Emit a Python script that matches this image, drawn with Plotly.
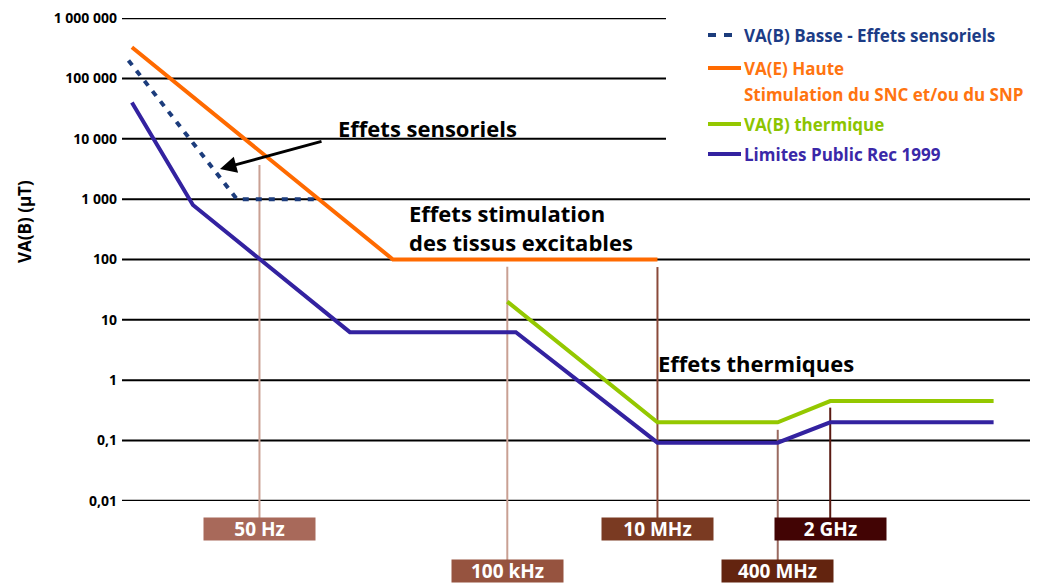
import plotly.graph_objects as go
import math

# ---------------- data ----------------
freq_orange = [1, 3000, 10e6]
val_orange = [330000, 100, 100]

freq_dotted = [0.9, 25, 300]
val_dotted = [200000, 1000, 1000]

freq_green = [100e3, 10e6, 400e6, 2e9, 300e9]
val_green = [20, 0.2, 0.2, 0.45, 0.45]

freq_blue = [1, 6.5, 800, 130e3, 10e6, 400e6, 2e9, 300e9]
val_blue = [40000, 800, 6.25, 6.25, 0.092, 0.092, 0.2, 0.2]

marker_labels = ["50 Hz", "100 kHz", "10 MHz", "400 MHz", "2 GHz"]
marker_freqs = [50, 100e3, 10e6, 400e6, 2e9]
marker_tops = [3700, 76, 75, 0.15, 0.35]

ytick_vals = [0.01, 0.1, 1, 10, 100, 1000, 10000, 100000, 1000000]
ytick_text = ["0,01", "0,1", "1", "10", "100", "1 000", "10 000", "100 000", "1 000 000"]

series_names = ["VA(B) Basse - Effets sensoriels",
                "VA(E) Haute<br>Stimulation du SNC et/ou du SNP",
                "VA(B) thermique",
                "Limites Public Rec 1999"]

# ---------------- styles / layout ----------------
OFF = 8  # default page body margin
W, H = 1050 - OFF, 585 - OFF
L, R, T, B = 122 - OFF, 20, 18 - OFF, 84
PW, PH = W - L - R, H - T - B
FONT = "Open Sans"
YPAD = 0.004  # tiny padding so edge tick labels stay visible

C_DOT = "#1c3c7c"
C_OR = "#ff6a00"
C_GR = "#94c800"
C_BL = "#3322a0"

marker_line_colors = ["#c9a093", "#c9a093", "#8a4a3a", "#9a6a60", "#5a1a12"]
marker_box_colors = ["#a8695a", "#96533f", "#7a3a22", "#63240f", "#420404"]
marker_box_row = [0, 1, 0, 1, 0]


def pxx(px):
    # reference-image pixel x -> paper
    return (px - OFF - L) / PW


def pxy(py):
    # reference-image pixel y -> paper
    return (H - B - (py - OFF)) / PH


def val2paper(v):
    return (math.log10(v) + 2 + YPAD) / (8 + 2 * YPAD)


fig = go.Figure()

fig.add_trace(go.Scatter(x=freq_orange, y=val_orange, mode="lines", name=series_names[1],
                         line=dict(color=C_OR, width=4), showlegend=False))
fig.add_trace(go.Scatter(x=freq_dotted, y=val_dotted, mode="lines", name=series_names[0],
                         line=dict(color=C_DOT, width=4, dash="6px,7px"), showlegend=False))
fig.add_trace(go.Scatter(x=freq_green, y=val_green, mode="lines", name=series_names[2],
                         line=dict(color=C_GR, width=4), showlegend=False))
fig.add_trace(go.Scatter(x=freq_blue, y=val_blue, mode="lines", name=series_names[3],
                         line=dict(color=C_BL, width=4), showlegend=False))

shapes = []
# horizontal grid lines (top three are shorter because of the legend)
for v in ytick_vals:
    x1 = pxx(666) if v >= 10000 else 1.0
    shapes.append(dict(type="line", xref="paper", yref="y", x0=0, x1=x1, y0=v, y1=v,
                       line=dict(color="black", width=2), layer="below"))

annotations = []
row_py = [529, 571]
for lab, f, top, lc, bc, row in zip(marker_labels, marker_freqs, marker_tops,
                                    marker_line_colors, marker_box_colors, marker_box_row):
    bottom_py = 518 if row == 0 else 561
    shapes.append(dict(type="line", xref="x", yref="paper", x0=f, x1=f,
                       y0=val2paper(top), y1=pxy(bottom_py),
                       line=dict(color=lc, width=2), layer="below"))
    annotations.append(dict(x=math.log10(f), y=pxy(row_py[row]), xref="x", yref="paper",
                            text="<b>%s</b>" % lab, showarrow=False,
                            font=dict(family=FONT, size=19, color="white"),
                            bgcolor=bc, width=107, height=18, borderpad=2,
                            xanchor="center", yanchor="middle"))

# text annotations
annotations.append(dict(x=pxx(336), y=pxy(128), xref="paper", yref="paper",
                        text="<b>Effets sensoriels</b>", showarrow=False,
                        xanchor="left", yanchor="middle",
                        font=dict(family=FONT, size=22, color="black")))
annotations.append(dict(x=pxx(407), y=pxy(227), xref="paper", yref="paper",
                        text="<b>Effets stimulation<br>des tissus excitables</b>", showarrow=False,
                        xanchor="left", yanchor="middle", align="left",
                        font=dict(family=FONT, size=22, color="black")))
annotations.append(dict(x=pxx(656), y=pxy(363), xref="paper", yref="paper",
                        text="<b>Effets thermiques</b>", showarrow=False,
                        xanchor="left", yanchor="middle",
                        font=dict(family=FONT, size=22, color="black")))
# arrow
annotations.append(dict(x=pxx(220), y=pxy(169), xref="paper", yref="paper",
                        ax=103, ay=-28,
                        text="", showarrow=True, arrowhead=2, arrowsize=1.1,
                        arrowwidth=3, arrowcolor="black"))
# y title
annotations.append(dict(x=pxx(24), y=pxy(222), xref="paper", yref="paper",
                        text="<b>VA(B) (μT)</b>", showarrow=False, textangle=-90,
                        xanchor="center", yanchor="middle",
                        font=dict(family=FONT, size=17, color="black")))

# custom legend
leg = [
    (35, C_DOT, "dash", series_names[0].split("<br>"), "#1c3c86"),
    (68, C_OR, "solid", series_names[1].split("<br>"), "#ff7410"),
    (124, C_GR, "solid", series_names[2].split("<br>"), "#8cc400"),
    (154, C_BL, "solid", series_names[3].split("<br>"), "#3a28a8"),
]
for py, col, dash, lines, tcol in leg:
    if dash == "dash":
        for x0 in (708, 724):
            shapes.append(dict(type="line", xref="paper", yref="paper",
                               x0=pxx(x0), x1=pxx(x0 + 8), y0=pxy(py), y1=pxy(py),
                               line=dict(color=col, width=4)))
    else:
        shapes.append(dict(type="line", xref="paper", yref="paper",
                           x0=pxx(708), x1=pxx(741), y0=pxy(py), y1=pxy(py),
                           line=dict(color=col, width=4)))
    for i, t in enumerate(lines):
        annotations.append(dict(x=pxx(742), y=pxy(py + 26 * i), xref="paper", yref="paper",
                                text="<b>%s</b>" % t, showarrow=False,
                                xanchor="left", yanchor="middle",
                                font=dict(family=FONT, size=17, color=tcol)))

fig.update_layout(
    width=W, height=H,
    margin=dict(l=L, r=R, t=T, b=B, autoexpand=False),
    paper_bgcolor="white", plot_bgcolor="white",
    showlegend=False,
    shapes=shapes, annotations=annotations,
    xaxis=dict(type="log", range=[(122 - 131.9) / 75.08, (1030 - 131.9) / 75.08],
               showgrid=False, zeroline=False, showline=False, automargin=False,
               showticklabels=False, ticks=""),
    yaxis=dict(type="log", range=[-2 - YPAD, 6 + YPAD], tickvals=ytick_vals, ticktext=ytick_text,
               showgrid=False, zeroline=False, showline=False, ticks="", automargin=False,
               ticklabelstandoff=4,
               tickfont=dict(family=FONT, size=14, color="black", weight="bold")),
)

fig.write_html("out.html")
